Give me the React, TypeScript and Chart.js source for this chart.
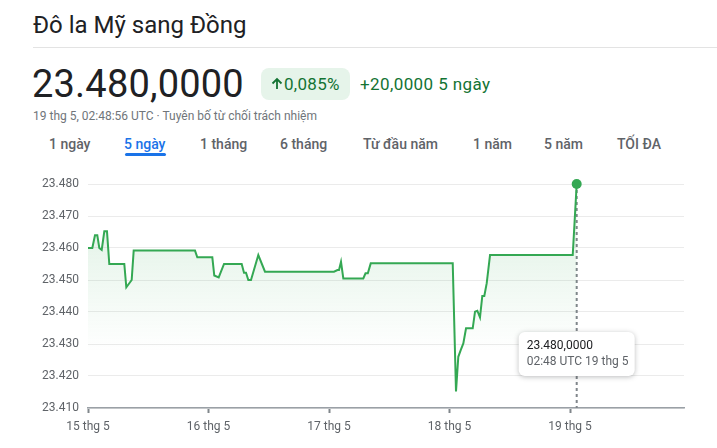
import React, { useEffect, useRef } from "react";
import { Chart, registerables } from "chart.js";

Chart.register(...registerables);

// hours since 15 thg 5 00:00
const timesH = [
  0, 0.86, 1.39, 1.85, 2.25, 2.73, 3.25, 3.78, 4.24, 7.23, 7.63, 8.7, 9.1,
  21.31, 21.77, 24.76, 25.15, 26.03, 27.09, 30.61, 31.07, 31.47, 31.93, 32.46,
  33.92, 35.25, 48.99, 49.69, 49.99, 50.39, 50.85, 54.83, 55.27, 55.73, 56.31,
  72.64, 73.29, 73.75, 74.23, 74.75, 75.29, 76.62, 77.08, 77.54, 78.07, 78.53,
  78.93, 79.41, 80.07, 96.54, 97.33,
];
const rates = [
  23.46, 23.46, 23.464, 23.464, 23.46, 23.4594, 23.4652, 23.4652, 23.455,
  23.455, 23.4477, 23.45, 23.4592, 23.4592, 23.4571, 23.4571, 23.4514,
  23.4508, 23.455, 23.455, 23.4523, 23.4523, 23.45, 23.45, 23.4578, 23.4526,
  23.4526, 23.4531, 23.4531, 23.4557, 23.4505, 23.4505, 23.4521, 23.4521,
  23.4552, 23.4552, 23.4152, 23.426, 23.4281, 23.4302, 23.4349, 23.4349,
  23.4401, 23.4404, 23.4383, 23.445, 23.445, 23.449, 23.4578, 23.4578, 23.48,
];
const tickHours = [0, 24, 48, 72, 96];
const tickLabels = ["15 thg 5", "16 thg 5", "17 thg 5", "18 thg 5", "19 thg 5"];
const yTicks = [23.41, 23.42, 23.43, 23.44, 23.45, 23.46, 23.47, 23.48];
const xMaxH = 118.7;

const tabs = ["1 ngày", "5 ngày", "1 tháng", "6 tháng", "Từ đầu năm", "1 năm", "5 năm", "TỐI ĐA"];
const tabX = [49, 124, 200, 280, 363, 473, 544, 617];
const activeTab = 1;

const tooltipValue = "23.480,0000";
const tooltipTime = "02:48 UTC 19 thg 5";

const GREEN = "#34a853";
const FONT = "Roboto, Arial, sans-serif";

function TextAt(props: { x: number; cy: number; size: number; color: string; weight?: number; ls?: number; children: any; lh?: number }) {
  const lh = props.lh ?? Math.round(props.size * 1.4);
  return (
    <div
      style={{
        position: "absolute",
        left: props.x,
        top: props.cy - lh / 2,
        fontSize: props.size,
        lineHeight: lh + "px",
        color: props.color,
        fontWeight: props.weight ?? 400,
        letterSpacing: props.ls ?? 0,
        whiteSpace: "nowrap",
        fontFamily: FONT,
      }}
    >
      {props.children}
    </div>
  );
}

export default function App() {
  const canvasRef = useRef<HTMLCanvasElement | null>(null);

  useEffect(() => {
    const canvas = canvasRef.current;
    if (!canvas) return;
    const lastIdx = timesH.length - 1;

    const markerPlugin = {
      id: "marker",
      beforeDatasetsDraw(chart: any) {
        const { ctx, chartArea, scales } = chart;
        const px = scales.x.getPixelForValue(timesH[lastIdx]);
        const py = scales.y.getPixelForValue(rates[lastIdx]);
        ctx.save();
        ctx.strokeStyle = "#80868b";
        ctx.lineWidth = 2;
        ctx.setLineDash([3, 3]);
        ctx.beginPath();
        ctx.moveTo(px, py);
        ctx.lineTo(px, chartArea.bottom);
        ctx.stroke();
        ctx.restore();
      },
      afterDraw(chart: any) {
        const { ctx, chartArea, scales } = chart;
        const px = scales.x.getPixelForValue(timesH[lastIdx]);
        const w = 116;
        const h = 44;
        const left = px - w / 2;
        const top = chartArea.bottom - 76;
        ctx.save();
        ctx.shadowColor = "rgba(60,64,67,0.35)";
        ctx.shadowBlur = 5;
        ctx.shadowOffsetY = 1;
        ctx.fillStyle = "#fff";
        ctx.beginPath();
        (ctx as any).roundRect(left, top, w, h, 6);
        ctx.fill();
        ctx.restore();
        ctx.save();
        ctx.font = "12px " + FONT;
        ctx.textBaseline = "middle";
        ctx.textAlign = "left";
        ctx.fillStyle = "#202124";
        ctx.fillText(tooltipValue, left + 8, top + 14);
        ctx.fillStyle = "#5f6368";
        ctx.fillText(tooltipTime, left + 8, top + 30);
        ctx.restore();
      },
    };

    const chart = new Chart(canvas, {
      type: "line",
      data: {
        datasets: [
          {
            data: timesH.map((t, i) => ({ x: t, y: rates[i] })),
            borderColor: GREEN,
            borderWidth: 2,
            tension: 0,
            clip: false as any,
            pointRadius: timesH.map((_, i) => (i === lastIdx ? 5 : 0)),
            pointBackgroundColor: GREEN,
            pointBorderWidth: 0,
            fill: "start",
            backgroundColor: (c: any) => {
              const area = c.chart.chartArea;
              if (!area) return "rgba(52,168,83,0.12)";
              const g = c.chart.ctx.createLinearGradient(0, area.top, 0, area.bottom);
              g.addColorStop(0, "rgba(52,168,83,0.18)");
              g.addColorStop(0.75, "rgba(52,168,83,0.0)");
              g.addColorStop(1, "rgba(52,168,83,0)");
              return g;
            },
          },
        ],
      },
      options: {
        animation: false,
        responsive: false,
        maintainAspectRatio: false,
        events: [],
        layout: { padding: { top: 24, right: 33, left: 0, bottom: 0 } },
        plugins: { legend: { display: false }, tooltip: { enabled: false } },
        scales: {
          x: {
            type: "linear",
            min: 0,
            max: xMaxH,
            afterBuildTicks: (s: any) => {
              s.ticks = tickHours.map((v) => ({ value: v }));
            },
            afterFit: (s: any) => {
              s.height = 40;
            },
            ticks: {
              autoSkip: false,
              maxRotation: 0,
              padding: 7,
              color: "#5f6368",
              font: { size: 12, family: FONT },
              callback: (_v: any, i: number) => tickLabels[i],
            },
            grid: {
              drawOnChartArea: false,
              drawTicks: true,
              tickLength: 5,
              tickWidth: 2,
              color: "#80868b",
            },
            border: { display: true, color: "#9aa0a6", width: 1.5 },
          },
          y: {
            min: yTicks[0],
            max: yTicks[yTicks.length - 1],
            afterBuildTicks: (s: any) => {
              s.ticks = yTicks.map((v) => ({ value: v }));
            },
            afterFit: (s: any) => {
              s.width = 88;
            },
            ticks: {
              padding: 9,
              color: "#5f6368",
              font: { size: 12, family: FONT },
              callback: (v: any) => Number(v).toFixed(3),
            },
            grid: { drawTicks: false, color: "#ebebeb", lineWidth: 1 },
            border: { display: false },
          },
        },
      },
      plugins: [markerPlugin],
    });
    return () => chart.destroy();
  }, []);

  return (
    <div style={{ position: "fixed", left: 0, top: 0, width: 717, height: 448, background: "#fff", overflow: "hidden", fontFamily: FONT }}>
      <TextAt x={33} cy={25} size={24} color="#202124">Đô la Mỹ sang Đồng</TextAt>
      <div style={{ position: "absolute", left: 33, top: 47, width: 684, height: 1, background: "#e3e3e3" }} />
      <TextAt x={32} cy={84} size={38} color="#202124" ls={0.2}>23.480,0000</TextAt>
      <div
        style={{
          position: "absolute",
          left: 261,
          top: 68,
          width: 89,
          height: 32,
          borderRadius: 8,
          background: "#e6f4ea",
        }}
      />
      <svg style={{ position: "absolute", left: 271, top: 77 }} width="12" height="13" viewBox="0 0 12 13">
        <path d="M6 12 V2 M1.5 6.5 L6 2 L10.5 6.5" stroke="#137333" strokeWidth="1.8" fill="none" />
      </svg>
      <TextAt x={284} cy={84} size={17} color="#137333" ls={0.3}>0,085%</TextAt>
      <TextAt x={360} cy={84} size={17} color="#137333" ls={0.4}>+20,0000 5 ngày</TextAt>
      <TextAt x={33} cy={116} size={12} color="#70757a">19 thg 5, 02:48:56 UTC · Tuyên bố từ chối trách nhiệm</TextAt>
      {tabs.map((t, i) => (
        <TextAt key={t} x={tabX[i]} cy={144} size={14} weight={500} color={i === activeTab ? "#1a73e8" : "#5f6368"}>
          {t}
        </TextAt>
      ))}
      <div style={{ position: "absolute", left: 125, top: 153, width: 41, height: 3, borderRadius: 2, background: "#1a73e8" }} />
      <canvas ref={canvasRef} width={717} height={288} style={{ position: "absolute", left: 0, top: 160, width: 717, height: 288 }} />
    </div>
  );
}
